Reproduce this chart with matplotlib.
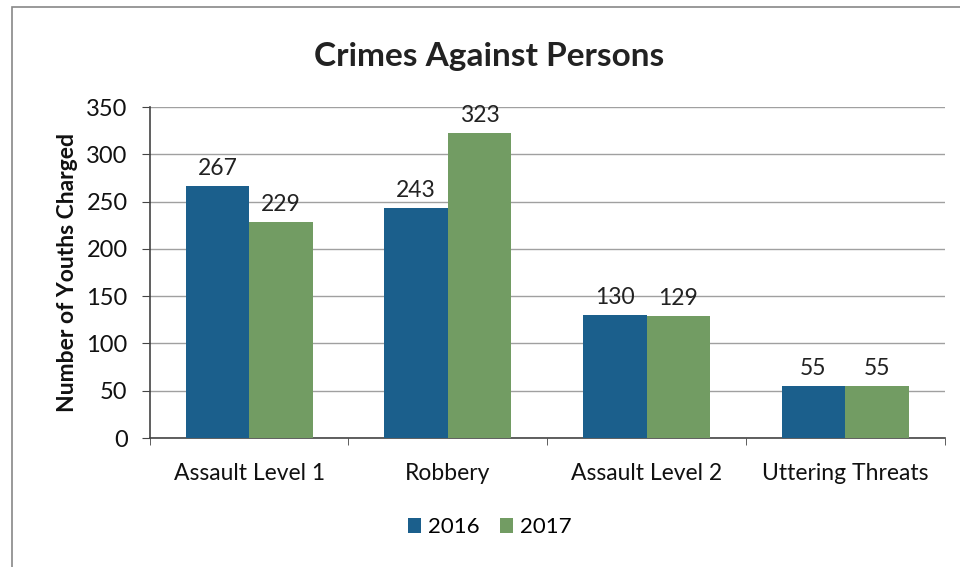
import matplotlib
matplotlib.use("Agg")
import matplotlib.pyplot as plt
import numpy as np
from matplotlib.patches import Rectangle

categories = ["Assault Level 1", "Robbery", "Assault Level 2", "Uttering Threats"]
series_names = ["2016", "2017"]
values_2016 = [267, 243, 130, 55]
values_2017 = [229, 323, 129, 55]
y_ticks = [0, 50, 100, 150, 200, 250, 300, 350]

colors = ["#1B5F8C", "#729C63"]
font = "Lato"

fig = plt.figure(figsize=(9.6, 5.67), dpi=100)
ax = fig.add_axes([0.156, 0.2275, 0.828, 0.5835])

x = np.arange(len(categories))
w = 0.32
bars1 = ax.bar(x - w / 2, values_2016, w, color=colors[0], label=series_names[0], zorder=3)
bars2 = ax.bar(x + w / 2, values_2017, w, color=colors[1], label=series_names[1], zorder=3)

for bars, vals in ((bars1, values_2016), (bars2, values_2017)):
    for b, v in zip(bars, vals):
        ax.annotate(str(v), (b.get_x() + b.get_width() / 2, v), xytext=(0, 5),
                    textcoords="offset points", ha="center", va="bottom",
                    fontsize=16.5, family=font, color="#222222")

ax.set_xlim(-0.5, len(categories) - 0.5)
ax.set_ylim(0, 350)
ax.set_yticks(y_ticks)
ax.set_yticklabels([str(t) for t in y_ticks], fontsize=17, family=font, color="#111111")
ax.set_xticks(x)
ax.set_xticklabels(categories, fontsize=16.5, family=font, color="#111111")
ax.tick_params(axis="x", length=0, pad=18)
ax.set_xticks(np.arange(-0.5, len(categories)), minor=True)
ax.tick_params(axis="x", which="minor", length=5, direction="out", color="#444444")
ax.tick_params(axis="y", length=6, direction="out", color="#444444", pad=10)

ax.grid(axis="y", color="#a0a0a0", linewidth=1.0, zorder=0)
for s in ("top", "right"):
    ax.spines[s].set_visible(False)
ax.spines["left"].set_color("#444444")
ax.spines["bottom"].set_color("#444444")
ax.spines["left"].set_linewidth(1.2)
ax.spines["bottom"].set_linewidth(1.2)

ax.set_ylabel("Number of Youths Charged", fontsize=16.5, fontweight="bold", family=font,
              color="#111111", labelpad=6)

fig.text(0.51, 0.9, "Crimes Against Persons", ha="center", va="center",
         fontsize=24, fontweight="bold", family=font, color="#222222")

leg = fig.legend(handles=[bars1, bars2], labels=series_names, loc="center",
                 bbox_to_anchor=(0.51, 0.07), ncol=2, frameon=False,
                 prop={"family": font, "size": 16}, handlelength=0.6, handleheight=0.6,
                 handletextpad=0.3, columnspacing=0.9)

# outer chart frame
fig.patches.append(Rectangle((0.0125, -0.02), 1.2, 1.008, transform=fig.transFigure,
                             fill=False, edgecolor="#888888", linewidth=1.2))

fig.savefig("out.png", dpi=100, facecolor="white")
